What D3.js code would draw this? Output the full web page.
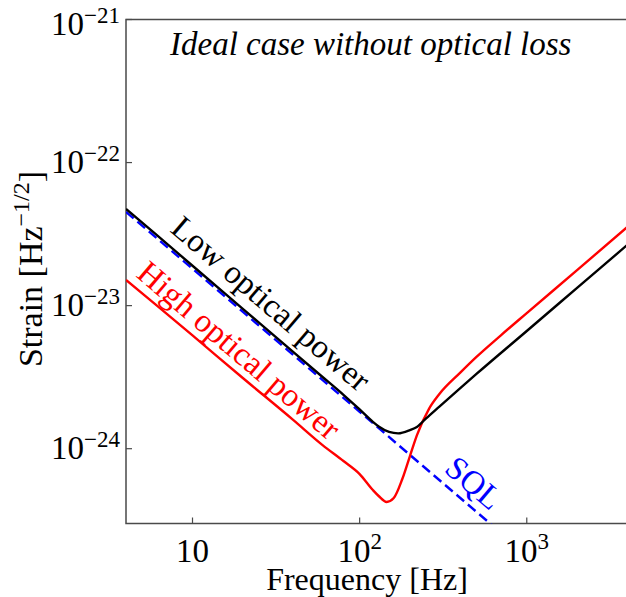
<!DOCTYPE html>
<html>
<head>
<meta charset="utf-8">
<script src="https://cdn.jsdelivr.net/npm/d3@7"></script>
<style>
  html, body { margin: 0; padding: 0; background: #fff; }
  svg { display: block; }
  text { font-family: "Liberation Serif", "Times New Roman", serif; }
</style>
</head>
<body>
<svg id="chart" width="626" height="597"></svg>
<script>
// ---- data ----
const lowFreq  = [4, 6, 10, 20, 40, 60, 80, 100, 120, 130, 150, 170, 200, 220, 250, 300, 400, 500, 1000, 2000, 4000];
const lowPower = [4.74e-23, 3.17e-23, 1.90e-23, 9.50e-24, 4.75e-24, 3.17e-24, 2.38e-24, 1.88e-24, 1.54e-24, 1.43e-24, 1.31e-24, 1.28e-24, 1.35e-24, 1.42e-24, 1.63e-24, 1.97e-24, 2.65e-24, 3.33e-24, 6.65e-24, 1.33e-23, 2.66e-23];

const highFreq  = [4, 6, 10, 20, 40, 60, 80, 100, 120, 130, 145, 160, 180, 200, 220, 260, 300, 400, 500, 700, 1000, 2000, 4000];
const highPower = [1.51e-23, 1.02e-23, 6.19e-24, 3.12e-24, 1.59e-24, 1.06e-24, 8.20e-25, 6.65e-25, 5.14e-25, 4.67e-25, 4.24e-25, 4.52e-25, 6.14e-25, 8.89e-25, 1.24e-24, 1.90e-24, 2.41e-24, 3.40e-24, 4.38e-24, 6.20e-24, 8.87e-24, 1.77e-23, 3.55e-23];

const sqlFreq = [4, 10, 100, 1000];
const sqlVals = [4.52e-23, 1.81e-23, 1.81e-24, 1.81e-25];

const xTickVals = [10, 100, 1000];
const xTickBase = ["10", "10", "10"];
const xTickExp  = ["", "2", "3"];
const yTickVals = [1e-21, 1e-22, 1e-23, 1e-24];
const yTickExp  = ["\u221221", "\u221222", "\u221223", "\u221224"];

// ---- layout ----
const svg = d3.select("#chart");
const L = 126, R = 627.4, T = 19.5, B = 523.5;
const x = d3.scaleLog().domain([4, 4000]).range([L, R]);
const y = d3.scaleLog().domain([3e-25, 1e-21]).range([B, T]);

svg.append("defs").append("clipPath").attr("id", "plotclip")
  .append("rect").attr("x", L).attr("y", T).attr("width", R - L).attr("height", B - T);

const axisColor = "#4a4a4a";

// spines
svg.append("rect").attr("x", L).attr("y", T).attr("width", R - L).attr("height", B - T)
  .attr("fill", "none").attr("stroke", axisColor).attr("stroke-width", 1.5);

// x ticks (inside, bottom) and labels
const gx = svg.append("g");
xTickVals.forEach((v, i) => {
  const px = x(v);
  gx.append("line").attr("x1", px).attr("x2", px).attr("y1", B).attr("y2", B - 6)
    .attr("stroke", axisColor).attr("stroke-width", 1.2);
  const t = gx.append("text").attr("x", px).attr("y", 561.5)
    .attr("text-anchor", "middle").attr("font-size", 33).attr("fill", "#000");
  t.append("tspan").text(xTickBase[i]);
  if (xTickExp[i]) {
    t.append("tspan").attr("dy", -13).attr("font-size", 23).text(xTickExp[i]);
  }
});

// y ticks (inside, left) and labels
const gy = svg.append("g");
yTickVals.forEach((v, i) => {
  const py = y(v);
  gy.append("line").attr("x1", L).attr("x2", L + 6).attr("y1", py).attr("y2", py)
    .attr("stroke", axisColor).attr("stroke-width", 1.2);
  const base = (i === 0) ? 35 : py + 10;
  const t = gy.append("text").attr("x", 120).attr("y", base)
    .attr("text-anchor", "end").attr("font-size", 33).attr("fill", "#000");
  t.append("tspan").text("10");
  t.append("tspan").attr("dy", -12).attr("font-size", 23).text(yTickExp[i]);
});

// curves
const plot = svg.append("g").attr("clip-path", "url(#plotclip)");
const line = d3.line().x(d => x(d[0])).y(d => y(d[1])).curve(d3.curveMonotoneX);
const lineStraight = d3.line().x(d => x(d[0])).y(d => y(d[1]));

plot.append("path").datum(d3.zip(sqlFreq, sqlVals))
  .attr("d", lineStraight).attr("fill", "none").attr("stroke", "#0000ff")
  .attr("stroke-width", 2.4).attr("stroke-dasharray", "10,5");
plot.append("path").datum(d3.zip(highFreq, highPower))
  .attr("d", line).attr("fill", "none").attr("stroke", "#ff0000").attr("stroke-width", 2.4);
plot.append("path").datum(d3.zip(lowFreq, lowPower))
  .attr("d", line).attr("fill", "none").attr("stroke", "#000").attr("stroke-width", 2.4);

// annotations
const ang = 40.5;
svg.append("text").attr("transform", `translate(169,231) rotate(${ang})`)
  .attr("font-size", 33).attr("fill", "#000").text("Low optical power");
svg.append("text").attr("transform", `translate(135,276) rotate(${ang})`)
  .attr("font-size", 33).attr("fill", "#ff0000").text("High optical power");
svg.append("text").attr("transform", `translate(443,471) rotate(${ang})`)
  .attr("font-size", 33).attr("fill", "#0000ff").text("SQL");

svg.append("text").attr("x", 170).attr("y", 55).attr("font-size", 33)
  .attr("font-style", "italic").attr("fill", "#000").text("Ideal case without optical loss");

// axis labels
svg.append("text").attr("x", 367).attr("y", 590).attr("text-anchor", "middle")
  .attr("font-size", 32).attr("fill", "#000").text("Frequency [Hz]");

const yl = svg.append("text").attr("transform", "translate(42,269) rotate(-90)")
  .attr("text-anchor", "middle").attr("font-size", 34).attr("fill", "#000");
yl.append("tspan").text("Strain [Hz");
yl.append("tspan").attr("dy", -13).attr("font-size", 24).text("\u22121/2");
yl.append("tspan").attr("dy", 13).text("]");
</script>
</body>
</html>
